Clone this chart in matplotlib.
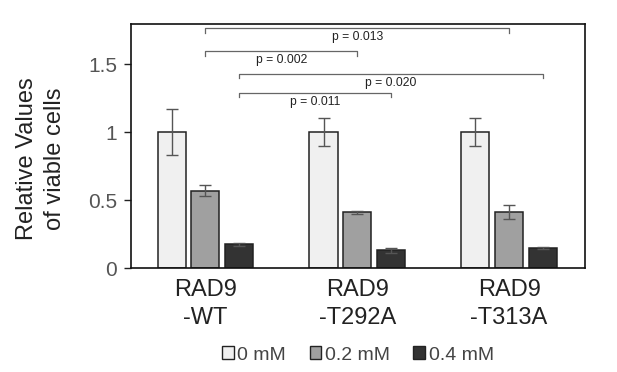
import numpy as np
import matplotlib.pyplot as plt
from matplotlib.patches import Patch

plt.rcParams['font.family'] = ['Liberation Sans', 'DejaVu Sans']

# data
groups = ["RAD9\n-WT", "RAD9\n-T292A", "RAD9\n-T313A"]
doses = ["0 mM", "0.2 mM", "0.4 mM"]
vals_0 = [1.0, 1.0, 1.0]
vals_02 = [0.57, 0.41, 0.41]
vals_04 = [0.175, 0.13, 0.148]
err_0 = [0.17, 0.10, 0.10]
err_02 = [0.04, 0.01, 0.05]
err_04 = [0.01, 0.02, 0.01]

# significance brackets: (group_a, bar_a, group_b, bar_b, label)
sig_pairs = [
    (0, 1, 2, 1, "p = 0.013"),
    (0, 1, 1, 1, "p = 0.002"),
    (0, 2, 2, 2, "p = 0.020"),
    (0, 2, 1, 2, "p = 0.011"),
]
sig_heights = [1.765, 1.595, 1.43, 1.29]

colors = ["#f0f0f0", "#a0a0a0", "#333333"]
width = 0.185
step = 0.222
x = np.arange(len(groups))

fig = plt.figure(figsize=(6.17, 3.72), dpi=100)
ax = fig.add_axes([131/617, 1-268/372, (585-131)/617, (268-24)/372])

series = [vals_0, vals_02, vals_04]
errs = [err_0, err_02, err_04]
for i, (v, e) in enumerate(zip(series, errs)):
    ax.bar(x + (i-1)*step, v, width, color=colors[i], edgecolor="#222222",
           linewidth=1.1, zorder=2)
    ax.errorbar(x + (i-1)*step, v, yerr=e, fmt="none", ecolor="#555555",
                elinewidth=1.0, capsize=4, capthick=1.0, zorder=3)

# brackets
tick = 0.035
for (ga, ba, gb, bb, lab), h in zip(sig_pairs, sig_heights):
    xa = ga + (ba-1)*step
    xb = gb + (bb-1)*step
    ax.plot([xa, xa, xb, xb], [h-tick, h, h, h-tick], color="#666666",
            lw=0.9, zorder=3)
    ax.text((xa+xb)/2, h-0.068, lab, ha="center", va="center", fontsize=8.7,
            color="#222222")

ax.set_xlim(-0.49, 2.5)
ax.set_ylim(0, 1.795)
ax.set_yticks([0, 0.5, 1, 1.5])
ax.set_yticklabels(["0", "0.5", "1", "1.5"])
ax.set_xticks(x)
ax.set_xticklabels(groups, fontsize=17, color="#222222", linespacing=1.35)
ax.tick_params(axis="x", length=0, pad=8)
ax.tick_params(axis="y", labelsize=15, colors="#555555", length=5,
               width=1.0, direction="out", pad=5)
ax.tick_params(axis="y", color="#222222")
for s in ax.spines.values():
    s.set_linewidth(1.2)
    s.set_color("#111111")

fig.text(41/617, 1-159/372, "Relative Values\nof viable cells",
         rotation=90, ha="center", va="center", fontsize=17,
         color="#222222", linespacing=1.35)

handles = [Patch(facecolor=c, edgecolor="#222222", linewidth=1.0) for c in colors]
fig.legend(handles, doses, loc="center", bbox_to_anchor=(358/617, 1-355/372),
           ncol=3, frameon=False, fontsize=14, handlelength=0.6,
           handleheight=0.6, handletextpad=0.2, columnspacing=1.2,
           labelcolor="#444444")

fig.savefig("out.png", dpi=100)
